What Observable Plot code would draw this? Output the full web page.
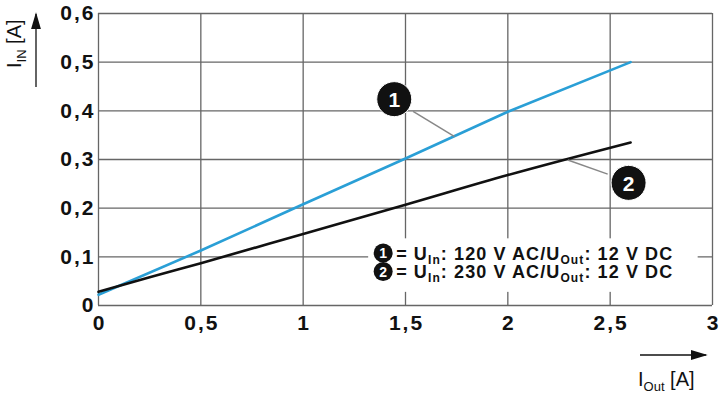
<!DOCTYPE html>
<html><head><meta charset="utf-8">
<script src="https://cdn.jsdelivr.net/npm/d3@7"></script>
<script src="https://cdn.jsdelivr.net/npm/@observablehq/plot@0.6"></script>
<style>body{margin:0;background:#fff}#chart{width:720px;height:397px}</style>
</head><body><div id="chart"></div>
<script>
// ---- data ----
const xTicks = [0, 0.5, 1, 1.5, 2, 2.5, 3];
const yTicks = [0, 0.1, 0.2, 0.3, 0.4, 0.5, 0.6];
const iOut1 = [0, 0.5, 1, 1.5, 2, 2.6];
const iIn1  = [0.022, 0.113, 0.208, 0.302, 0.398, 0.5];
const iOut2 = [0, 0.25, 0.5, 1, 1.5, 2, 2.6];
const iIn2  = [0.028, 0.058, 0.087, 0.147, 0.207, 0.268, 0.335];
const calloutIds = ["1", "2"];
const calloutX = [1.445, 2.59];
const calloutY = [0.424, 0.252];
const leaderFromX = [1.537, 2.488];
const leaderFromY = [0.399, 0.270];
const leaderToX = [1.74, 2.293];
const leaderToY = [0.347, 0.299];
const legendBox = {x1: 1.32, x2: 2.93, y1: 0.027, y2: 0.137};
const legendIds = ["1", "2"];
const legendUin = ["120 V AC", "230 V AC"];
const legendUout = ["12 V DC", "12 V DC"];

const line1 = iOut1.map((x, i) => ({x, y: iIn1[i]}));
const line2 = iOut2.map((x, i) => ({x, y: iIn2[i]}));
const callouts = calloutIds.map((id, i) => ({id, x: calloutX[i], y: calloutY[i],
  x1: leaderFromX[i], y1: leaderFromY[i], x2: leaderToX[i], y2: leaderToY[i]}));
const fmt = d => String(d).replace(".", ",");
const FONT = "'Liberation Sans', Arial, Helvetica, sans-serif";
const gridColor = "#666";

const chart = Plot.plot({
  width: 720, height: 397,
  marginLeft: 98, marginRight: 8, marginTop: 13, marginBottom: 92,
  style: {fontFamily: FONT, background: "#fff"},
  x: {domain: [0, 3]},
  y: {domain: [0, 0.6]},
  marks: [
    Plot.ruleX(xTicks, {stroke: gridColor, strokeWidth: 1.3}),
    Plot.ruleY(yTicks, {stroke: gridColor, strokeWidth: 1.3}),
    Plot.axisX(xTicks, {tickSize: 0, tickPadding: 10, tickFormat: fmt, fontSize: 21, fontWeight: "bold", fill: "#111", label: null, dx: 1}),
    Plot.axisY(yTicks, {tickSize: 0, tickPadding: 3, tickFormat: fmt, fontSize: 21, fontWeight: "bold", fill: "#111", label: null}),
    Plot.line(line1, {x: "x", y: "y", stroke: "#2a9fd6", strokeWidth: 2.6}),
    Plot.line(line2, {x: "x", y: "y", stroke: "#111", strokeWidth: 2.6, curve: "monotone-x"}),
    Plot.link(callouts, {x1: "x1", y1: "y1", x2: "x2", y2: "y2", stroke: "#888", strokeWidth: 1.5}),
    Plot.dot(callouts, {x: "x", y: "y", r: 17.5, fill: "#111", stroke: "#fff", strokeWidth: 1}),
    Plot.text(callouts, {x: "x", y: "y", text: "id", fill: "#fff", fontSize: 21, fontWeight: "bold", dy: 1})
  ]
});
document.getElementById("chart").append(chart);
// wider tick labels like the reference
d3.select(chart).selectAll("g[aria-label='x-axis tick label'] text, g[aria-label='y-axis tick label'] text")
  .style("letter-spacing", "2px");

const svg = d3.select(chart);
const sx = chart.scale("x"), sy = chart.scale("y");
// legend background box (covers grid, under the lines)
const firstLine = chart.querySelector("g[aria-label='line']");
const bx1 = sx.apply(legendBox.x1), bx2 = sx.apply(legendBox.x2);
const by1 = sy.apply(legendBox.y2), by2 = sy.apply(legendBox.y1);
const bg = document.createElementNS("http://www.w3.org/2000/svg", "rect");
bg.setAttribute("x", bx1); bg.setAttribute("y", by1);
bg.setAttribute("width", bx2 - bx1); bg.setAttribute("height", by2 - by1);
bg.setAttribute("fill", "#fff");
chart.insertBefore(bg, firstLine);

const lx = bx1 + 15;
legendIds.forEach((id, i) => {
  const cy = 253 + i * 18.5;
  svg.append("circle").attr("cx", lx).attr("cy", cy).attr("r", 9.5).attr("fill", "#111");
  svg.append("text").attr("x", lx).attr("y", cy + 5).attr("text-anchor", "middle")
    .attr("fill", "#fff").attr("font-size", 14).attr("font-weight", "bold").attr("font-family", FONT).text(id);
  const t = svg.append("text").attr("x", lx + 13).attr("y", cy + 6.5).attr("text-anchor", "start")
    .attr("font-size", 18).attr("font-weight", "bold").attr("font-family", FONT).attr("fill", "#111")
    .style("letter-spacing", "1.1px");
  t.append("tspan").text("= U");
  t.append("tspan").attr("dy", 4).attr("font-size", 12).text("In");
  t.append("tspan").attr("dy", -4).text(": " + legendUin[i] + "/U");
  t.append("tspan").attr("dy", 4).attr("font-size", 12).text("Out");
  t.append("tspan").attr("dy", -4).text(": " + legendUout[i]);
});
// arrow marker
svg.append("defs").append("marker").attr("id", "ah").attr("viewBox", "0 0 10 10")
  .attr("refX", 9).attr("refY", 5).attr("markerWidth", 17).attr("markerHeight", 10)
  .attr("markerUnits", "userSpaceOnUse").attr("orient", "auto").attr("preserveAspectRatio", "none")
  .append("path").attr("d", "M0,0L10,5L0,10Z").attr("fill", "#111");
// y axis title
svg.append("line").attr("x1", 36).attr("y1", 87).attr("x2", 36).attr("y2", 14)
  .attr("stroke", "#111").attr("stroke-width", 1.3).attr("marker-end", "url(#ah)");
const yl = svg.append("text").attr("transform", "translate(21,68) rotate(-90)").attr("text-anchor", "start")
  .attr("font-size", 20).attr("font-family", FONT).attr("fill", "#111");
yl.append("tspan").text("I");
yl.append("tspan").attr("dy", 5).attr("font-size", 13).text("IN");
yl.append("tspan").attr("dy", -5).text(" [A]");
// x axis title
svg.append("line").attr("x1", 640).attr("y1", 355).attr("x2", 706).attr("y2", 355)
  .attr("stroke", "#111").attr("stroke-width", 1.3).attr("marker-end", "url(#ah)");
const xl = svg.append("text").attr("x", 638).attr("y", 386).attr("text-anchor", "start")
  .attr("font-size", 20).attr("font-family", FONT).attr("fill", "#111");
xl.append("tspan").text("I");
xl.append("tspan").attr("dy", 5).attr("font-size", 13).text("Out");
xl.append("tspan").attr("dy", -5).text(" [A]");
</script></body></html>
